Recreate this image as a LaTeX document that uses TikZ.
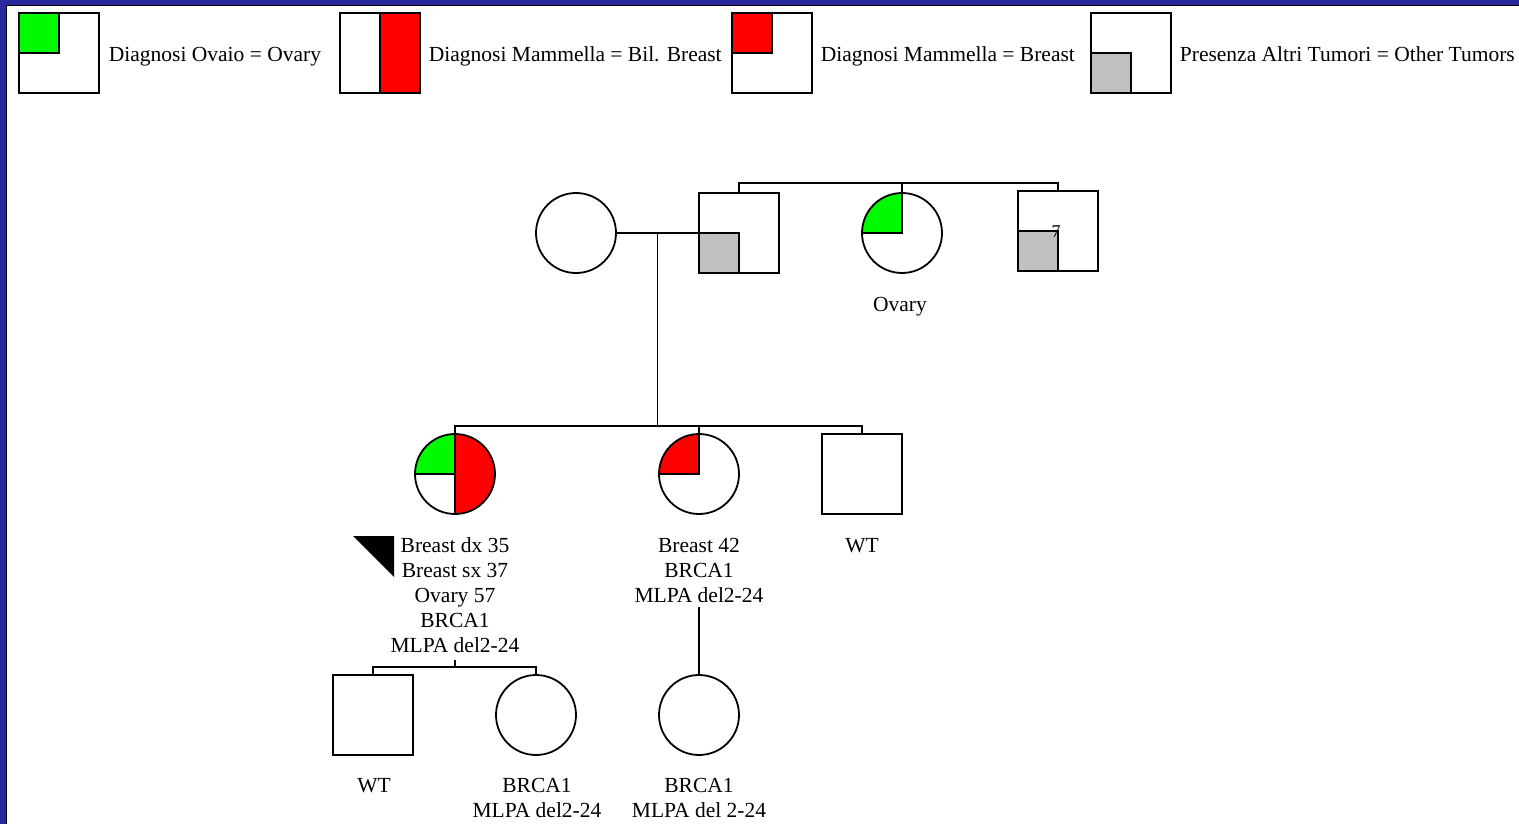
\documentclass[tikz,border=0pt]{standalone}
\usepackage{fontspec}
\setmainfont{Liberation Serif}
\usetikzlibrary{calc}
\definecolor{pedgreen}{RGB}{0,250,0}
\definecolor{pedred}{RGB}{255,0,0}
\definecolor{pedgrey}{RGB}{192,192,192}
\definecolor{frameblue}{RGB}{42,40,158}
\begin{document}
\begin{tikzpicture}[x=1pt,y=-1pt,
  line width=1.8pt,
  sq/.style={draw,rectangle,minimum size=80pt,inner sep=0pt},
  ci/.style={draw,circle,minimum size=80pt,inner sep=0pt},
  % multi-line labels are anchored at the baseline of their last line
  lbl/.style={font=\fontsize{21.5}{25}\selectfont,align=center,inner sep=0pt,anchor=base},
  legtxt/.style={font=\fontsize{21.5}{25}\selectfont,inner sep=0pt,anchor=base west},
  small/.style={font=\fontsize{18}{20}\selectfont,inner sep=0pt,anchor=base},
  grn/.style={fill=pedgreen},
  rd/.style={fill=pedred},
  gry/.style={fill=pedgrey}
]
% frame
\useasboundingbox (0,0) rectangle (1519,824);
\fill[frameblue] (0,0) rectangle (1519,824);
\fill[white] (7,6) rectangle (1519,824);
\draw[line width=1pt] (6.5,824) -- (6.5,5.5) -- (1519,5.5);

% ---------- legend ----------
\coordinate (k1) at (59,53);
\fill[grn] (k1) rectangle ++(-40,-40);
\node[sq] (key1) at (k1) {};
\draw (key1.west) -- (k1) -- (key1.north);
\node[legtxt] (kt1) at (108,62) {Diagnosi Ovaio = Ovary};

\coordinate (k2) at (380,53);
\fill[rd] (k2) ++(0,-40) rectangle ++(40,80);
\node[sq] (key2) at (k2) {};
\draw (key2.north) -- (key2.south);
\node[legtxt] (kt2) at (428,62) {Diagnosi Mammella = Bil. Breast};

\coordinate (k3) at (772,53);
\fill[rd] (k3) rectangle ++(-40,-40);
\node[sq] (key3) at (k3) {};
\draw (key3.west) -- (k3) -- (key3.north);
\node[legtxt] (kt3) at (820,62) {Diagnosi Mammella = Breast};

\coordinate (k4) at (1131,53);
\fill[gry] (k4) rectangle ++(-40,40);
\node[sq] (key4) at (k4) {};
\draw (key4.west) -- (k4) -- (key4.south);
\node[legtxt] (kt4) at (1179,62) {Presenza Altri Tumori = Other Tumors};

% ---------- generation I ----------
\node[ci] (m1) at (576,233) {};

\coordinate (p1) at (739,233);
\fill[gry] (p1) rectangle ++(-40,40);
\node[sq] (f1) at (p1) {};
\draw (f1.west) -- (p1) -- (f1.south);

\coordinate (p2) at (902,233);
\begin{scope}
  \clip (p2) circle[radius=40];
  \fill[grn] (p2) rectangle ++(-40,-40);
\end{scope}
\node[ci] (a1) at (p2) {};
\draw (a1.west) -- (p2) -- (a1.north);
\node[lbl] (a1l) at (900,311) {Ovary};

\coordinate (p3) at (1058,231);
\fill[gry] (p3) rectangle ++(-40,40);
\node[sq] (u1) at (p3) {};
\draw (u1.west) -- (p3) -- (u1.south);
\node[small] (u1n) at (1056,237) {7};

% couple and sibship
\coordinate (s1) at (0,183);
\coordinate (j1) at ($(m1.east)!.5!(f1.west)$);
\coordinate (j2) at (657,426);
\draw (m1.east) -- (f1.west);
\draw (f1.north) |- (u1.north |- s1) -- (u1.north);
\draw (a1.north) -- (a1.north |- s1);
\draw (j1) -- (j1 |- j2);

% ---------- generation II ----------
\coordinate (q1) at (455,474);
\begin{scope}
  \clip (q1) circle[radius=40];
  \fill[grn] (q1) rectangle ++(-40,-40);
  \fill[rd] (q1) ++(0,-40) rectangle ++(40,80);
\end{scope}
\node[ci] (A) at (q1) {};
\draw (A.north) -- (A.south);
\draw (A.west) -- (q1);
\node[lbl] (Al) at (455,652) {Breast dx 35\\Breast sx 37\\Ovary 57\\BRCA1\\MLPA del2-24};
\fill (353,536) -- (394,536) -- (394,577) -- cycle;

\coordinate (q2) at (699,474);
\begin{scope}
  \clip (q2) circle[radius=40];
  \fill[rd] (q2) rectangle ++(-40,-40);
\end{scope}
\node[ci] (B) at (q2) {};
\draw (B.west) -- (q2) -- (B.north);
\node[lbl] (Bl) at (699,602) {Breast 42\\BRCA1\\MLPA del2-24};

\node[sq] (C) at (862,474) {};
\node[lbl] (Cl) at (862,552) {WT};

\draw (A.north) |- (C.north |- j2) -- (C.north);
\draw (B.north) -- (B.north |- j2);

% ---------- generation III ----------
\node[sq] (D) at (373,715) {};
\node[lbl] (Dl) at (374,792) {WT};
\node[ci] (E) at (536,715) {};
\node[lbl] (El) at (537,817) {BRCA1\\MLPA del2-24};
\node[ci] (F) at (699,715) {};
\node[lbl] (Fl) at (699,817) {BRCA1\\MLPA del 2-24};

\coordinate (s3) at (0,667);
\coordinate (t3) at (455,660);
\coordinate (t4) at (699,607);
\draw (t3) -- (t3 |- s3);
\draw (D.north) |- (E.north |- s3) -- (E.north);
\draw (t4) -- (F.north);
\end{tikzpicture}
\end{document}
